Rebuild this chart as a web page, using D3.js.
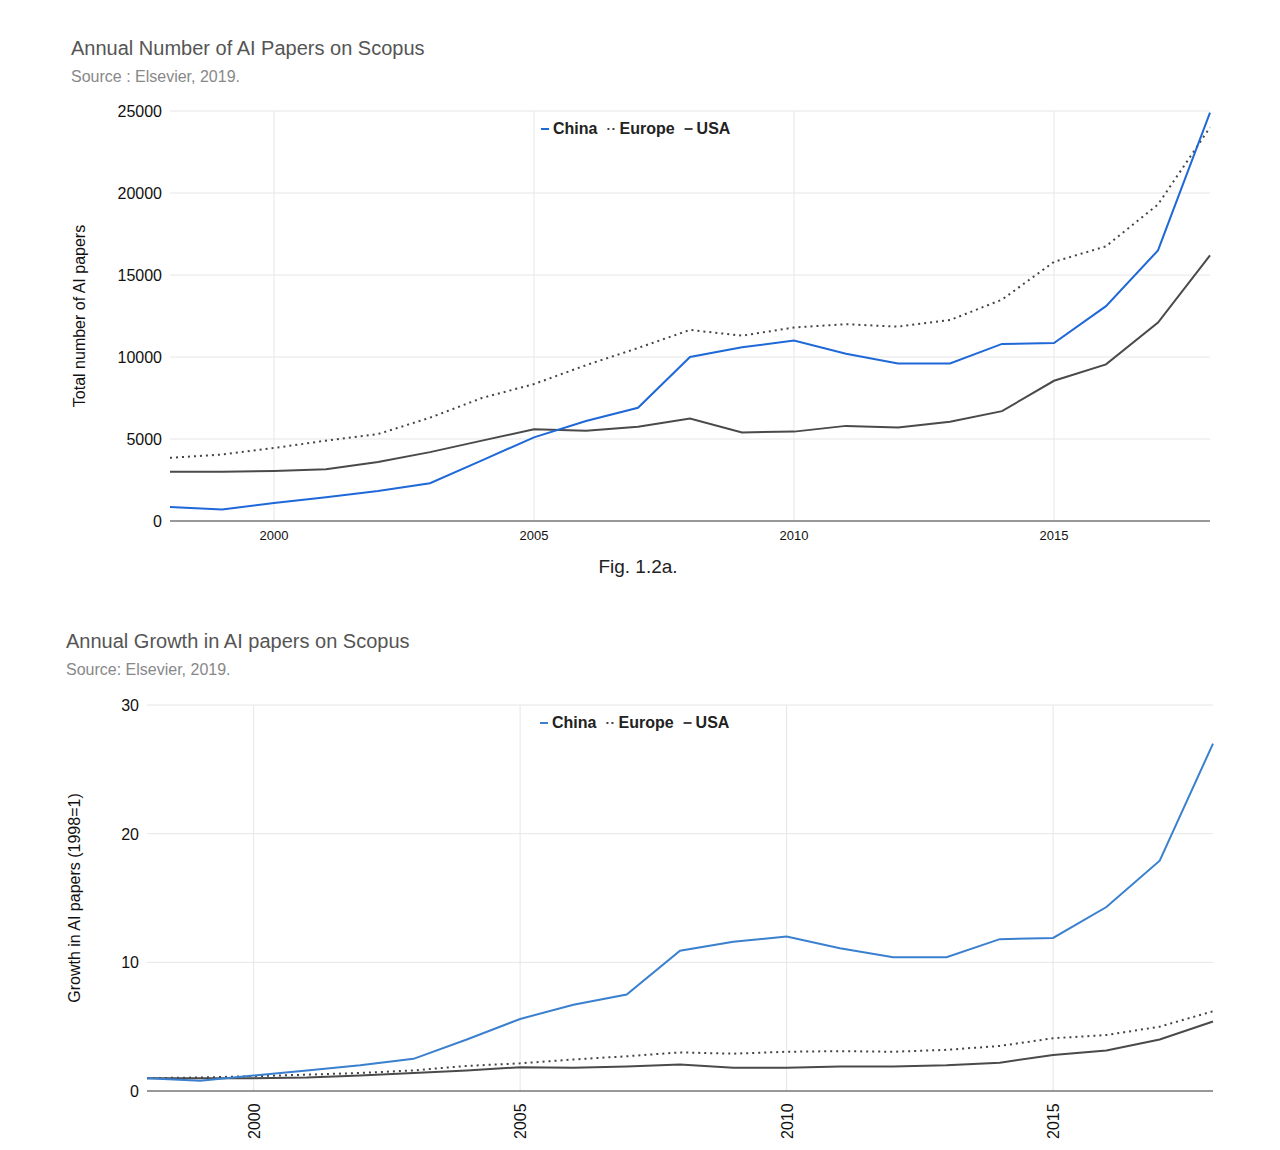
<!DOCTYPE html>
<html><head><meta charset="utf-8">
<script src="https://cdn.jsdelivr.net/npm/d3@7"></script>
<style>
body{margin:0;background:#fff;font-family:Arial,"Liberation Sans",sans-serif;}
.grid line{stroke:#e6e6e6;}
.tick text{fill:#222;}
</style></head>
<body><svg id="c" width="1280" height="1150"></svg>
<script>
const years = d3.range(1998, 2019);
const chinaCount = [850,700,1100,1450,1830,2300,3700,5100,6100,6900,10000,10600,11000,10200,9600,9600,10800,10850,13100,16500,24900];
const europeCount = [3850,4050,4450,4900,5300,6300,7500,8350,9500,10550,11650,11300,11800,12000,11850,12250,13500,15800,16750,19300,24000];
const usaCount = [3000,3000,3050,3150,3600,4200,4900,5600,5500,5750,6250,5400,5450,5800,5700,6050,6700,8550,9550,12100,16200];
const chinaGrowth = [1,0.8,1.2,1.6,2.0,2.5,4.0,5.6,6.7,7.5,10.9,11.6,12.0,11.1,10.4,10.4,11.8,11.9,14.3,17.9,27.0];
const europeGrowth = [1,1.05,1.15,1.27,1.4,1.6,1.95,2.15,2.45,2.7,3.0,2.9,3.05,3.1,3.05,3.2,3.5,4.1,4.35,5.0,6.2];
const usaGrowth = [1,1.0,1.0,1.05,1.2,1.4,1.6,1.85,1.8,1.9,2.05,1.8,1.8,1.9,1.9,2.0,2.2,2.8,3.15,4.0,5.4];
const xTicks = [2000, 2005, 2010, 2015];
const countTicks = [0,5000,10000,15000,20000,25000];
const growthTicks = [0,10,20,30];

const svg = d3.select("#c");

function chart(o) {
  const x = d3.scaleLinear().domain([1998, 2018]).range([o.x0, o.x1]);
  const y = d3.scaleLinear().domain([0, o.ymax]).range([o.y0, o.y1]);
  const g = svg.append("g");
  // title
  g.append("text").attr("x", o.tx).attr("y", o.ty).attr("font-size", 20).attr("fill", "#555").text(o.title);
  g.append("text").attr("x", o.tx).attr("y", o.ty + 27).attr("font-size", 16).attr("fill", "#888").text(o.sub);
  // grid
  g.append("g").attr("class", "grid").selectAll("line.v").data(xTicks).join("line")
    .attr("x1", d => x(d)).attr("x2", d => x(d)).attr("y1", o.y0).attr("y2", o.y1);
  g.append("g").attr("class", "grid").selectAll("line.h").data(o.yTicks.slice(1)).join("line")
    .attr("x1", o.x0).attr("x2", o.x1).attr("y1", d => y(d)).attr("y2", d => y(d));
  g.append("line").attr("x1", o.x0).attr("x2", o.x1).attr("y1", o.y0).attr("y2", o.y0).attr("stroke", "#333");
  // y labels
  g.selectAll("text.yl").data(o.yTicks).join("text")
    .attr("x", o.x0 - 8).attr("y", d => y(d) + 6).attr("text-anchor", "end")
    .attr("font-size", 16).attr("fill", "#111").text(d => d);
  // x labels
  if (o.rotate) {
    g.selectAll("text.xl").data(xTicks).join("text")
      .attr("transform", d => `translate(${x(d) + 6},${o.y0 + 48}) rotate(-90)`)
      .attr("font-size", 16).attr("fill", "#111").text(d => d);
  } else {
    g.selectAll("text.xl").data(xTicks).join("text")
      .attr("x", d => x(d)).attr("y", o.y0 + 19).attr("text-anchor", "middle")
      .attr("font-size", 13).attr("fill", "#111").text(d => d);
  }
  g.append("text").attr("transform", `translate(${o.ax},${(o.y0 + o.y1) / 2}) rotate(-90)`)
    .attr("text-anchor", "middle").attr("font-size", 16).attr("fill", "#111").text(o.ytitle);
  const line = d3.line().x((d, i) => x(years[i])).y(d => y(d));
  const series = [
    {name: "Europe", v: o.europe, c: "#444", dash: "2,4"},
    {name: "USA", v: o.usa, c: "#4a4a4a", dash: null},
    {name: "China", v: o.china, c: o.blue, dash: null}
  ];
  series.forEach(s => {
    g.append("path").attr("d", line(s.v)).attr("fill", "none").attr("stroke", s.c)
      .attr("stroke-width", 2).attr("stroke-dasharray", s.dash);
  });
  // legend
  const leg = [{n: "China", c: o.blue, d: null}, {n: "Europe", c: "#444", d: "2,3"}, {n: "USA", c: "#444", d: null}];
  let lx = o.lx;
  leg.forEach(l => {
    g.append("line").attr("x1", lx).attr("x2", lx + 8).attr("y1", o.ly - 5).attr("y2", o.ly - 5)
      .attr("stroke", l.c).attr("stroke-width", 2).attr("stroke-dasharray", l.d);
    const t = g.append("text").attr("x", lx + 12).attr("y", o.ly).attr("font-size", 16)
      .attr("font-weight", "bold").attr("fill", "#222").text(l.n);
    lx += t.node().getComputedTextLength() + 22;
  });
}

chart({x0: 170, x1: 1210, y0: 521, y1: 111, ymax: 25000, yTicks: countTicks,
  tx: 71, ty: 55, title: "Annual Number of AI Papers on Scopus", sub: "Source : Elsevier, 2019.",
  ytitle: "Total number of AI papers", ax: 85, china: chinaCount, europe: europeCount, usa: usaCount,
  blue: "#1f68d8", lx: 541, ly: 134, rotate: false});

svg.append("text").attr("x", 638).attr("y", 573).attr("text-anchor", "middle").attr("font-size", 19)
  .attr("fill", "#222").text("Fig. 1.2a.");

chart({x0: 147, x1: 1213, y0: 1091, y1: 705, ymax: 30, yTicks: growthTicks,
  tx: 66, ty: 648, title: "Annual Growth in AI papers on Scopus", sub: "Source: Elsevier, 2019.",
  ytitle: "Growth in AI papers (1998=1)", ax: 80, china: chinaGrowth, europe: europeGrowth, usa: usaGrowth,
  blue: "#3a80cf", lx: 540, ly: 728, rotate: true});
</script></body></html>
